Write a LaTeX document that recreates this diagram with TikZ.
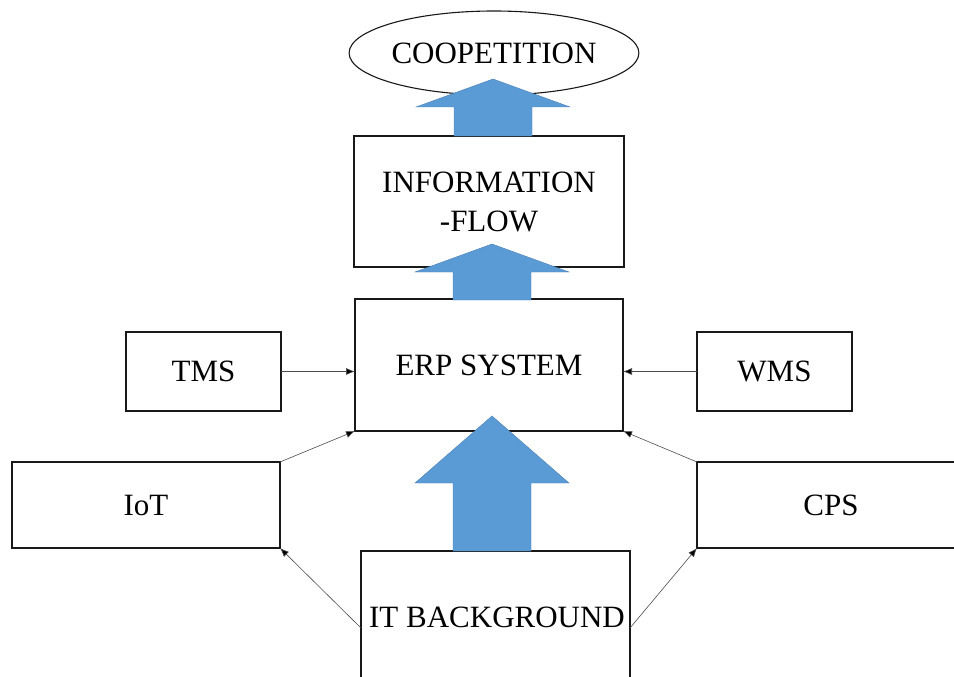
\documentclass[tikz,border=0pt]{standalone}
\usepackage{fontspec}
\setmainfont{Liberation Serif}
\usetikzlibrary{arrows.meta,shapes.geometric}
\definecolor{arrblue}{HTML}{5B9BD5}
\definecolor{arredge}{HTML}{4A7FB5}
\tikzset{
	box/.style={draw=black!90, line width=1.1pt, fill=white, inner sep=0pt, outer sep=0pt, align=center, font=\fontsize{31}{39}\selectfont},
	lbl/.style={inner sep=0pt, font=\fontsize{31}{39}\selectfont},
	thin arr/.style={draw=black!70, line width=0.6pt, -{Latex[length=9pt,width=7pt,fill=black]}},
	bigarr/.style={fill=arrblue, draw=arredge, line width=0.4pt}
}
% x of tip, y of tip, y of head base, y of shaft end
\def\bigarrow(#1,#2,#3,#4){\draw[bigarr] (#1,#2) -- (#1+77,#3) -- (#1+39,#3) -- (#1+39,#4) -- (#1-39,#4) -- (#1-39,#3) -- (#1-77,#3) -- cycle;}

\begin{document}
\begin{tikzpicture}[x=1pt, y=-1pt]
			%%%%% START %%%%%
			\useasboundingbox (0,0) rectangle (954,677);
			
			\node[box, ellipse, minimum width=276pt, minimum height=84pt] (coop) at (494,53) {COOPETITION};
			\node[box, minimum width=270pt, minimum height=131pt] (info) at (489,201.5) {INFORMATION\\-FLOW};
			\node[box, minimum width=268pt, minimum height=132pt] (erp) at (489,365) {ERP SYSTEM};
			
			\node[box, minimum width=155pt, minimum height=79pt] (tms) at (203.5,371.5) {TMS};
			\node[box, minimum width=155pt, minimum height=79pt] (wms) at (774.5,371.5) {WMS};
			
			\node[box, minimum width=268pt, minimum height=86pt] (iot) at (146,505) {IoT};
			\node[box, minimum width=268pt, minimum height=86pt] (cps) at (831,505) {CPS};
			
			\node[box, minimum width=269pt, minimum height=154pt] (itbg) at (495.5,628) {};
			\node[lbl] (itlbl) at (497,617) {IT BACKGROUND};
			
			\draw[thin arr] (tms.east) -- (tms.east -| erp.west);
			\draw[thin arr] (wms.west) -- (wms.west -| erp.east);
			\draw[thin arr] (iot.north east) -- (erp.south west);
			\draw[thin arr] (cps.north west) -- (erp.south east);
			\draw[thin arr] (itbg.west) -- (iot.south east);
			\draw[thin arr] (itbg.east) -- (cps.south west);
			
			\bigarrow(493,79,107,136)
			\bigarrow(492,244,272,300)
			\bigarrow(492,416,483,551)
			%%%%% END %%%%%
\end{tikzpicture}
\end{document}
